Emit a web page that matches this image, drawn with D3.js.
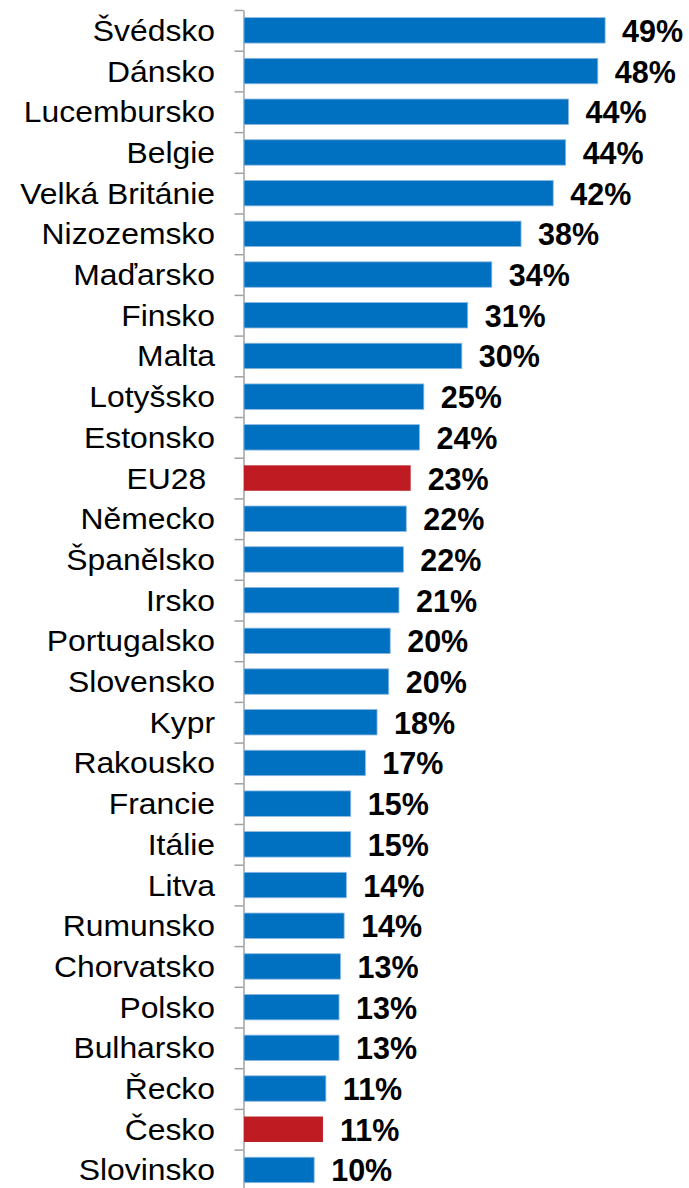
<!DOCTYPE html>
<html>
<head>
<meta charset="utf-8">
<script src="https://cdn.jsdelivr.net/npm/d3@7"></script>
<style>
  body { margin: 0; background: #fff; }
  svg text { font-family: "Liberation Sans", Arial, sans-serif; }
</style>
</head>
<body>
<svg width="689" height="1188"></svg>
<script>
const countries = ['Švédsko', 'Dánsko', 'Lucembursko', 'Belgie', 'Velká Británie', 'Nizozemsko',
  'Maďarsko', 'Finsko', 'Malta', 'Lotyšsko', 'Estonsko', 'EU28 ', 'Německo', 'Španělsko', 'Irsko',
  'Portugalsko', 'Slovensko', 'Kypr', 'Rakousko', 'Francie', 'Itálie', 'Litva', 'Rumunsko',
  'Chorvatsko', 'Polsko', 'Bulharsko', 'Řecko', 'Česko', 'Slovinsko'];
const shares = [49.4, 48.4, 44.4, 44.0, 42.3, 37.9, 33.9, 30.6, 29.8, 24.6, 24.0, 22.8, 22.2, 21.8, 21.2,
  20.0, 19.8, 18.2, 16.6, 14.6, 14.6, 14.0, 13.7, 13.2, 13.0, 13.0, 11.2, 10.8, 9.6];
const highlighted = ['EU28 ', 'Česko'];

const svg = d3.select('svg');
const plotTop = 10;
const plotBottom = 1190.3;
const x0 = 244;

const x = d3.scaleLinear().domain([0, 50]).range([x0, x0 + 7.31 * 50]);
const y = d3.scaleBand().domain(countries).range([plotTop, plotBottom])
  .paddingInner(0.375).paddingOuter(0.1875);

// axis with ticks between categories
const yIdx = d3.scaleLinear().domain([0, countries.length]).range([plotTop, plotBottom]);
const axis = svg.append('g')
  .attr('transform', 'translate(243.5,0)')
  .call(d3.axisLeft(yIdx).tickValues(d3.range(countries.length + 1))
    .tickFormat('').tickSize(9).tickSizeOuter(0));
axis.select('.domain').attr('stroke', '#a0a0a0').attr('stroke-width', 1.5);
axis.selectAll('.tick line').attr('stroke', '#a0a0a0').attr('stroke-width', 1.5);

const rows = countries.map((c, i) => ({ name: c, value: shares[i] }));

svg.selectAll('rect.bar')
  .data(rows)
  .join('rect')
  .attr('class', 'bar')
  .attr('x', x(0))
  .attr('y', d => y(d.name))
  .attr('width', d => x(d.value) - x(0))
  .attr('height', y.bandwidth())
  .attr('fill', d => (highlighted.includes(d.name) ? '#be1b23' : '#0070c0'))
  .attr('stroke', d => (highlighted.includes(d.name) ? 'none' : '#8db8e4'))
  .attr('stroke-width', 0.8);

// category labels (slightly wide, as in the original)
svg.selectAll('text.cat')
  .data(rows)
  .join('text')
  .attr('class', 'cat')
  .attr('transform', d => `translate(215,${y(d.name) + y.bandwidth() / 2 + 10.5}) scale(1.08,1)`)
  .attr('text-anchor', 'end')
  .style('white-space', 'pre')
  .attr('font-size', 29.5)
  .attr('fill', '#000')
  .text(d => d.name);

// value labels
svg.selectAll('text.val')
  .data(rows)
  .join('text')
  .attr('class', 'val')
  .attr('x', d => x(d.value) + 17)
  .attr('y', d => y(d.name) + y.bandwidth() / 2 + 11.5)
  .attr('font-size', 30.5)
  .attr('font-weight', 'bold')
  .attr('fill', '#000')
  .text(d => Math.round(d.value) + '%');
</script>
</body>
</html>
